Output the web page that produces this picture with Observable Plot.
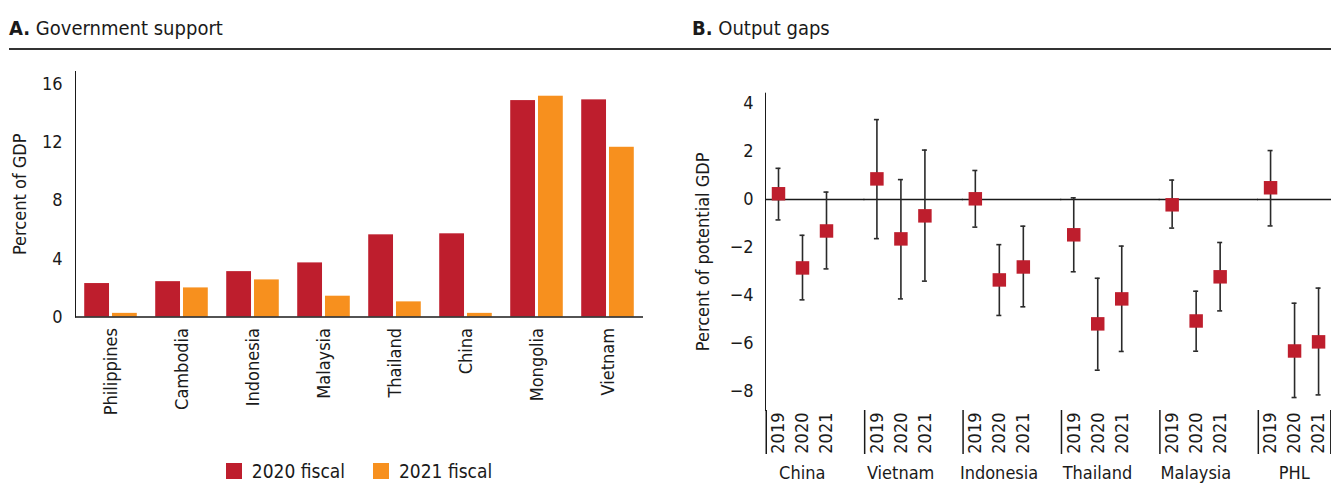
<!DOCTYPE html>
<html><head><meta charset="utf-8">
<script src="https://cdn.jsdelivr.net/npm/d3@7"></script>
<script src="https://cdn.jsdelivr.net/npm/@observablehq/plot@0.6"></script>
<style>
html,body{margin:0;padding:0;background:#fff;overflow:hidden;}
body{width:1331px;height:493px;position:relative;font-family:"DejaVu Sans Condensed","DejaVu Sans",sans-serif;font-stretch:condensed;color:#1a1a1a;}
.title{position:absolute;top:18px;font-size:20px;line-height:20px;white-space:nowrap;}
.hr{position:absolute;left:9px;right:0;top:48px;height:1.5px;background:#333;}
#left{position:absolute;left:0;top:60px;}
#right{position:absolute;left:680px;top:60px;}
#legend{position:absolute;left:0;width:718px;top:462px;display:flex;justify-content:center;align-items:center;font-size:19px;line-height:18px;}
.item{display:flex;align-items:center;margin:0 14px;}
.sw{width:16px;height:16px;display:inline-block;margin-right:10px;}
</style></head>
<body>
<div class="title" style="left:9px"><b>A.</b> Government support</div>
<div class="title" style="left:692px"><b>B.</b> Output gaps</div>
<div class="hr"></div>
<div id="left"></div>
<div id="right"></div>
<div id="legend"></div>
<script>
// Panel A data
const supportCountries = ["Philippines","Cambodia","Indonesia","Malaysia","Thailand","China","Mongolia","Vietnam"];
const fiscal2020 = [2.30, 2.43, 3.12, 3.72, 5.65, 5.72, 14.88, 14.93];
const fiscal2021 = [0.25, 2.00, 2.55, 1.43, 1.04, 0.25, 15.18, 11.67];
const seriesNames = ["2020 fiscal", "2021 fiscal"];
const seriesColors = ["#BE1E2D", "#F7901E"];
const supportTicks = [0, 4, 8, 12, 16];

// Panel B data
const gapCountries = ["China","Vietnam","Indonesia","Thailand","Malaysia","PHL"];
const gapYears = ["2019","2020","2021"];
const gapMid  = [0.24, -2.85, -1.31,  0.86, -1.64, -0.68,  0.03, -3.35, -2.81, -1.47, -5.18, -4.14, -0.22, -5.06, -3.22,  0.49, -6.31, -5.93];
const gapHigh = [1.30, -1.49,  0.31,  3.33,  0.83,  2.06,  1.21, -1.88, -1.11,  0.07, -3.28, -1.94,  0.81, -3.82, -1.79,  2.04, -4.32, -3.69];
const gapLow  = [-0.85, -4.18, -2.89, -1.63, -4.14, -3.40, -1.15, -4.83, -4.47, -3.01, -7.11, -6.33, -1.19, -6.32, -4.64, -1.10, -8.25, -8.14];
const gapTicks = [-8, -6, -4, -2, 0, 2, 4];

const font = '"DejaVu Sans Condensed", "DejaVu Sans", sans-serif';
const style = {fontFamily: font, fontSize: "18px", color: "#1a1a1a", background: "transparent", overflow: "visible"};
const ink = "#1a1a1a";

const supportRows = supportCountries.flatMap((c, i) => [
  {country: c, series: seriesNames[0], value: fiscal2020[i]},
  {country: c, series: seriesNames[1], value: fiscal2021[i]}
]);

const left = Plot.plot({
  width: 660, height: 390,
  marginLeft: 73, marginRight: 15, marginTop: 11, marginBottom: 133.5,
  style,
  fx: {domain: supportCountries, padding: 0, label: null, tickRotate: -90, tickSize: 0, tickPadding: 11, axis: "bottom"},
  x: {domain: seriesNames, paddingInner: 0.107, paddingOuter: 0.332, axis: null, round: false},
  y: {domain: [0, 16.88], ticks: supportTicks, tickSize: 0, tickPadding: 13, line: true,
      label: "Percent of GDP", labelAnchor: "center", labelArrow: "none", labelOffset: 62},
  color: {domain: seriesNames, range: seriesColors},
  marks: [
    Plot.barY(supportRows, {fx: "country", x: "series", y: "value", fill: "series"}),
    Plot.ruleY([0], {stroke: ink, strokeWidth: 1.5})
  ]
});
document.getElementById("left").appendChild(left);

const gapRows = [];
gapCountries.forEach((c, i) => gapYears.forEach((yr, j) => {
  const k = i * gapYears.length + j;
  gapRows.push({country: c, year: yr, mid: gapMid[k], low: gapLow[k], high: gapHigh[k]});
}));

const facetGap = 25;      // px between country groups
const yearStep = 24.5;    // px between years in a group
const errInk = "#2a2a2a";
const right = Plot.plot({
  width: 651, height: 433,
  marginLeft: 85, marginRight: 0.5, marginTop: 32.7, marginBottom: 83,
  style,
  fx: {domain: gapCountries, paddingInner: facetGap / (facetGap + 3 * yearStep), paddingOuter: 0, label: null, round: false, axis: null},
  x: {type: "point", domain: gapYears, padding: 0.5, label: null, axis: null},
  y: {domain: [-8.79, 4.43], ticks: gapTicks, tickFormat: d3.format("d"), tickSize: 0, tickPadding: 12, line: true,
      label: "Percent of potential GDP", labelAnchor: "center", labelArrow: "none", labelOffset: 69},
  marks: [
    Plot.ruleY([0], {stroke: ink, strokeWidth: 1.5, insetRight: -facetGap - 1}),
    Plot.ruleX(gapRows, {fx: "country", x: "year", y1: "low", y2: "high", stroke: errInk, strokeWidth: 1.6}),
    Plot.ruleY(gapRows, {fx: "country", x1: "year", x2: "year", y: "low", stroke: errInk, strokeWidth: 1.6, insetLeft: -2.5, insetRight: -2.5}),
    Plot.ruleY(gapRows, {fx: "country", x1: "year", x2: "year", y: "high", stroke: errInk, strokeWidth: 1.6, insetLeft: -2.5, insetRight: -2.5}),
    Plot.dot(gapRows, {fx: "country", x: "year", y: "mid", symbol: "square", r: 7.6, fill: "#BE1E2D", stroke: "none"}),
    Plot.axisX({tickRotate: -90, tickSize: 0, tickPadding: 2, label: null}),
    Plot.axisX({ticks: ["2019"], tickSize: 44, tickFormat: () => "", dx: -yearStep / 2, stroke: ink, strokeWidth: 1.5, label: null}),
    Plot.axisX({ticks: ["2021"], tickSize: 44, tickFormat: () => "", dx: yearStep / 2, stroke: ink, strokeWidth: 1.5, label: null, facetAnchor: "right"}),
    Plot.axisFx({anchor: "bottom", tickSize: 0, tickPadding: 56, label: null})
  ]
});
document.getElementById("right").appendChild(right);

// Legend
const legend = document.getElementById("legend");
seriesNames.forEach((name, i) => {
  const item = document.createElement("div");
  item.className = "item";
  const sw = document.createElement("span");
  sw.className = "sw";
  sw.style.background = seriesColors[i];
  const label = document.createElement("span");
  label.textContent = name;
  item.appendChild(sw);
  item.appendChild(label);
  legend.appendChild(item);
});
</script>
</body></html>
